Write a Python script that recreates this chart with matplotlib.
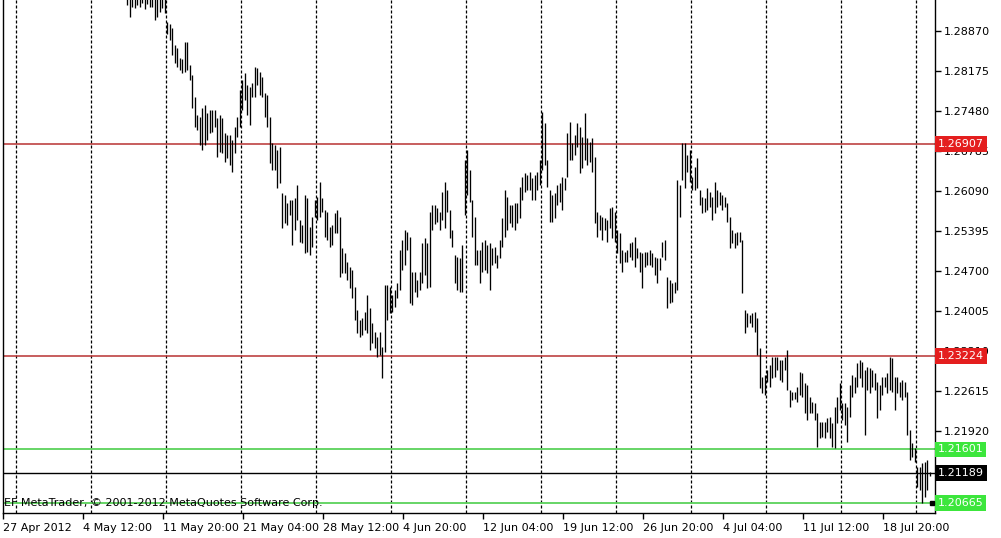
import matplotlib
matplotlib.use('Agg')
import matplotlib.pyplot as plt
import matplotlib.transforms as mtransforms
import numpy as np

# H4 bars (high / low)
high = [1.2958, 1.2952, 1.2960, 1.2955, 1.2957, 1.2953, 1.2962, 1.2950, 1.2956, 1.2959, 1.2954, 1.2949, 1.2951, 1.2955, 1.2958, 1.2948,
        1.2903, 1.2899, 1.2892, 1.2863, 1.2857, 1.2840, 1.2838, 1.2868, 1.2868, 1.2828,
        1.2811, 1.2772, 1.2741, 1.2738, 1.2753, 1.2758, 1.2745, 1.2750, 1.2750, 1.2750,
        1.2736, 1.2741, 1.2736, 1.2710, 1.2706, 1.2706, 1.2698, 1.2720, 1.2738, 1.2785,
        1.2802, 1.2814, 1.2793, 1.2790, 1.2797, 1.2825, 1.2823, 1.2816, 1.2807, 1.2779,
        1.2776, 1.2738, 1.2692, 1.2689, 1.2680, 1.2686, 1.2606, 1.2602, 1.2588, 1.2593,
        1.2593, 1.2597, 1.2619, 1.2559, 1.2550, 1.2602, 1.2597, 1.2547, 1.2564, 1.2593,
        1.2599, 1.2625, 1.2597, 1.2576, 1.2573, 1.2547, 1.2550, 1.2571, 1.2576, 1.2564,
        1.2510, 1.2501, 1.2486, 1.2477, 1.2472, 1.2442, 1.2402, 1.2385, 1.2388, 1.2399,
        1.2428, 1.2406, 1.2380, 1.2364, 1.2355, 1.2364, 1.2338, 1.2446, 1.2446, 1.2442,
        1.2428, 1.2437, 1.2449, 1.2506, 1.2524, 1.2541, 1.2538, 1.2529, 1.2468, 1.2468,
        1.2454, 1.2468, 1.2519, 1.2527, 1.2519, 1.2573, 1.2585, 1.2585, 1.2580, 1.2573,
        1.2607, 1.2625, 1.2611, 1.2576, 1.2541, 1.2498, 1.2494, 1.2493, 1.2515, 1.2663,
        1.2680, 1.2645, 1.2593, 1.2564, 1.2506, 1.2506, 1.2520, 1.2524, 1.2515, 1.2519,
        1.2510, 1.2512, 1.2498, 1.2524, 1.2562, 1.2611, 1.2599, 1.2585, 1.2585, 1.2588,
        1.2588, 1.2616, 1.2633, 1.2640, 1.2637, 1.2642, 1.2632, 1.2637, 1.2642, 1.2663,
        1.2746, 1.2727, 1.2663, 1.2611, 1.2602, 1.2606, 1.2619, 1.2623, 1.2633, 1.2632,
        1.2710, 1.2729, 1.2692, 1.2706, 1.2727, 1.2720, 1.2703, 1.2745, 1.2701, 1.2694,
        1.2701, 1.2668, 1.2573, 1.2567, 1.2564, 1.2562, 1.2559, 1.2580, 1.2581, 1.2573,
        1.2541, 1.2536, 1.2506, 1.2503, 1.2506, 1.2519, 1.2520, 1.2529, 1.2510, 1.2503,
        1.2501, 1.2503, 1.2503, 1.2506, 1.2501, 1.2494, 1.2493, 1.2493, 1.2520, 1.2524,
        1.2460, 1.2454, 1.2449, 1.2451, 1.2628, 1.2619, 1.2692, 1.2692, 1.2672, 1.2680,
        1.2633, 1.2651, 1.2666, 1.2611, 1.2599, 1.2597, 1.2614, 1.2607, 1.2599, 1.2625,
        1.2611, 1.2607, 1.2602, 1.2599, 1.2588, 1.2564, 1.2541, 1.2536, 1.2538, 1.2538,
        1.2524, 1.2402, 1.2397, 1.2394, 1.2397, 1.2399, 1.2388, 1.2336, 1.2286, 1.2289,
        1.2298, 1.2307, 1.2321, 1.2321, 1.2321, 1.2315, 1.2315, 1.2321, 1.2333, 1.2263,
        1.2260, 1.2260, 1.2268, 1.2295, 1.2293, 1.2275, 1.2272, 1.2251, 1.2242, 1.2241,
        1.2223, 1.2208, 1.2208, 1.2208, 1.2215, 1.2216, 1.2206, 1.2234, 1.2251, 1.2275,
        1.2241, 1.2241, 1.2234, 1.2272, 1.2289, 1.2286, 1.2310, 1.2315, 1.2312, 1.2298,
        1.2303, 1.2301, 1.2298, 1.2293, 1.2277, 1.2272, 1.2286, 1.2286, 1.2293, 1.2321,
        1.2319, 1.2286, 1.2286, 1.2277, 1.2281, 1.2277, 1.2260, 1.2194, 1.2171, 1.2163,
        1.2129, 1.2129, 1.2136, 1.2138, 1.2142, 1.2121]

low = [1.2932, 1.2911, 1.2929, 1.2927, 1.2932, 1.2929, 1.2936, 1.2925, 1.2934, 1.2929, 1.2929, 1.2906, 1.2911, 1.2920, 1.2927, 1.2918,
       1.2882, 1.2871, 1.2845, 1.2831, 1.2825, 1.2819, 1.2814, 1.2816, 1.2819, 1.2802,
       1.2753, 1.2720, 1.2715, 1.2689, 1.2680, 1.2689, 1.2698, 1.2710, 1.2712, 1.2720,
       1.2668, 1.2677, 1.2675, 1.2659, 1.2666, 1.2654, 1.2642, 1.2675, 1.2703, 1.2720,
       1.2750, 1.2767, 1.2741, 1.2724, 1.2772, 1.2772, 1.2793, 1.2776, 1.2772, 1.2738,
       1.2720, 1.2658, 1.2645, 1.2645, 1.2614, 1.2623, 1.2545, 1.2553, 1.2550, 1.2567,
       1.2515, 1.2541, 1.2559, 1.2520, 1.2519, 1.2501, 1.2503, 1.2498, 1.2512, 1.2564,
       1.2559, 1.2564, 1.2573, 1.2529, 1.2524, 1.2512, 1.2515, 1.2536, 1.2536, 1.2460,
       1.2466, 1.2466, 1.2454, 1.2441, 1.2423, 1.2385, 1.2362, 1.2355, 1.2359, 1.2367,
       1.2362, 1.2333, 1.2345, 1.2336, 1.2321, 1.2324, 1.2284, 1.2329, 1.2385, 1.2397,
       1.2399, 1.2407, 1.2423, 1.2437, 1.2472, 1.2480, 1.2506, 1.2414, 1.2411, 1.2434,
       1.2425, 1.2437, 1.2449, 1.2463, 1.2441, 1.2442, 1.2541, 1.2552, 1.2555, 1.2541,
       1.2559, 1.2545, 1.2573, 1.2527, 1.2512, 1.2449, 1.2437, 1.2434, 1.2434, 1.2567,
       1.2602, 1.2590, 1.2529, 1.2480, 1.2480, 1.2449, 1.2468, 1.2472, 1.2466, 1.2437,
       1.2480, 1.2484, 1.2475, 1.2493, 1.2512, 1.2529, 1.2541, 1.2553, 1.2547, 1.2541,
       1.2553, 1.2562, 1.2593, 1.2607, 1.2611, 1.2611, 1.2593, 1.2593, 1.2611, 1.2619,
       1.2645, 1.2654, 1.2616, 1.2555, 1.2555, 1.2562, 1.2585, 1.2590, 1.2576, 1.2611,
       1.2633, 1.2663, 1.2663, 1.2672, 1.2686, 1.2640, 1.2649, 1.2663, 1.2654, 1.2659,
       1.2642, 1.2553, 1.2529, 1.2541, 1.2524, 1.2541, 1.2520, 1.2545, 1.2527, 1.2520,
       1.2501, 1.2484, 1.2468, 1.2486, 1.2486, 1.2494, 1.2489, 1.2477, 1.2493, 1.2468,
       1.2441, 1.2477, 1.2480, 1.2480, 1.2477, 1.2463, 1.2449, 1.2472, 1.2494, 1.2489,
       1.2406, 1.2414, 1.2416, 1.2432, 1.2437, 1.2564, 1.2628, 1.2614, 1.2642, 1.2625,
       1.2611, 1.2611, 1.2614, 1.2585, 1.2571, 1.2573, 1.2576, 1.2581, 1.2559, 1.2571,
       1.2581, 1.2585, 1.2576, 1.2581, 1.2555, 1.2510, 1.2519, 1.2510, 1.2515, 1.2520,
       1.2432, 1.2362, 1.2373, 1.2380, 1.2373, 1.2364, 1.2324, 1.2267, 1.2258, 1.2255,
       1.2277, 1.2268, 1.2284, 1.2286, 1.2298, 1.2281, 1.2277, 1.2298, 1.2263, 1.2234,
       1.2246, 1.2248, 1.2242, 1.2255, 1.2251, 1.2223, 1.2211, 1.2223, 1.2223, 1.2211,
       1.2164, 1.2180, 1.2182, 1.2180, 1.2190, 1.2180, 1.2164, 1.2163, 1.2206, 1.2228,
       1.2211, 1.2202, 1.2173, 1.2216, 1.2251, 1.2258, 1.2268, 1.2284, 1.2268, 1.2185,
       1.2263, 1.2258, 1.2268, 1.2263, 1.2215, 1.2228, 1.2255, 1.2268, 1.2258, 1.2263,
       1.2260, 1.2228, 1.2258, 1.2251, 1.2246, 1.2251, 1.2185, 1.2142, 1.2147, 1.2138,
       1.2095, 1.2090, 1.2067, 1.2077, 1.2090, 1.2114]

time_labels = ['27 Apr 2012', '4 May 12:00', '11 May 20:00', '21 May 04:00', '28 May 12:00',
               '4 Jun 20:00', '12 Jun 04:00', '19 Jun 12:00', '26 Jun 20:00', '4 Jul 04:00',
               '11 Jul 12:00', '18 Jul 20:00']
price_ticks = [1.28870, 1.28175, 1.27480, 1.26785, 1.26090, 1.25395,
               1.24700, 1.24005, 1.23310, 1.22615, 1.21920, 1.21225]
red_levels = [1.26907, 1.23224]
green_levels = [1.21601, 1.20665]
bid = 1.21189

plt.rcParams['font.family'] = 'DejaVu Sans'
fig = plt.figure(figsize=(10.01, 5.38), dpi=100)
ax = fig.add_axes([3 / 1001, 25 / 538, 932 / 1001, 513 / 538])

x = np.arange(len(high))
ax.vlines(x, low, high, color='black', lw=0.95, zorder=3)

# dashed period separators, every 30 bars
for gx in np.arange(-44.4, len(high) + 2, 30):
    ax.axvline(gx, color='black', lw=0.9, dashes=(2.4, 1.6), zorder=1)

trans = mtransforms.blended_transform_factory(ax.transAxes, ax.transData)
box = dict(boxstyle='square,pad=0.25', ec='none')


def price_tag(level, face):
    ax.text(1.003, level, '%.5f' % level, transform=trans, ha='left', va='center',
            color='white', fontsize=8, bbox=dict(box, fc=face), clip_on=False, zorder=5)


for lv in red_levels:
    ax.axhline(lv, color='#b83232', lw=1.1, zorder=2)
    price_tag(lv, '#e41e1e')
for lv in green_levels:
    ax.axhline(lv, color='#5ad25a', lw=1.3, zorder=2)
    price_tag(lv, '#3ce63c')
ax.axhline(bid, color='black', lw=1.0, zorder=2)
price_tag(bid, 'black')

ax.plot(x[-1] + 0.8, green_levels[1], marker='s', ms=3.5, color='black', clip_on=False, zorder=6)

ax.text(0.001, 0.019, 'EF MetaTrader, \u00a9 2001-2012 MetaQuotes Software Corp.',
        transform=ax.transAxes, ha='left', va='center', fontsize=8, color='black', zorder=4)

ax.set_xlim(-49.6, 323.2)
ax.set_ylim(1.20495, 1.29409)

ax.yaxis.tick_right()
ax.set_yticks(price_ticks)
# the last tick label sits completely under the bid tag in the original
ax.set_yticklabels(['%.5f' % p for p in price_ticks[:-1]] + [''])
ax.set_xticks(-49.6 + 32 * np.arange(len(time_labels)))
ax.set_xticklabels(time_labels, ha='left')
ax.tick_params(axis='both', labelsize=8, length=4, width=1, colors='black', pad=2)
ax.tick_params(axis='x', pad=3)

ax.spines['top'].set_visible(False)
for s in ['left', 'right', 'bottom']:
    ax.spines[s].set_linewidth(1)
    ax.spines[s].set_color('black')

fig.savefig('out.png', dpi=100, facecolor='white')
